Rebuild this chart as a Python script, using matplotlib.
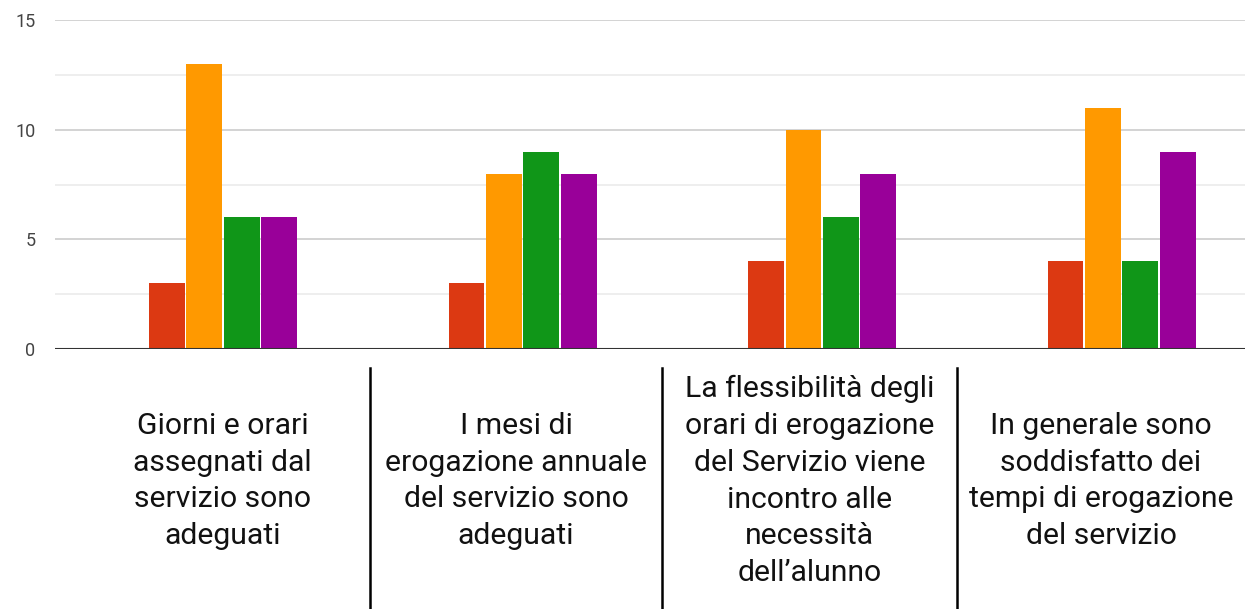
import matplotlib
matplotlib.use("Agg")
import matplotlib.pyplot as plt
from matplotlib.lines import Line2D
import numpy as np

categories = [
    "Giorni e orari\nassegnati dal\nservizio sono\nadeguati",
    "I mesi di\nerogazione annuale\ndel servizio sono\nadeguati",
    "La flessibilità degli\norari di erogazione\ndel Servizio viene\nincontro alle\nnecessità\ndell\u2019alunno",
    "In generale sono\nsoddisfatto dei\ntempi di erogazione\ndel servizio",
]
series_red = [3, 3, 4, 4]
series_orange = [13, 8, 10, 11]
series_green = [6, 9, 6, 4]
series_purple = [6, 8, 8, 9]
series = [series_red, series_orange, series_green, series_purple]
colors = ["#dc3912", "#ff9900", "#109618", "#990099"]
yticks = [0, 5, 10, 15]

plt.rcParams['font.family'] = ['Roboto', 'DejaVu Sans']

W, H = 1245, 609
fig = plt.figure(figsize=(W / 100, H / 100), dpi=100)
ax = fig.add_axes([55 / W, 1 - 349 / H, 1190 / W, 329 / H])

x = np.arange(len(categories))
slot = 0.125
bw = 0.119
for i, (vals, c) in enumerate(zip(series, colors)):
    ax.bar(x + (i - 1.5) * slot, vals, width=bw, color=c, zorder=3)

ax.set_ylim(0, 15)
ax.set_xlim(-0.561, 3.412)
ax.set_yticks(yticks)
ax.set_yticklabels([str(t) for t in yticks], fontsize=13, color="#444444")
ax.set_yticks([2.5, 7.5, 12.5], minor=True)
ax.grid(axis='y', which='major', color="#cccccc", linewidth=1.2, zorder=0)
ax.grid(axis='y', which='minor', color="#ebebeb", linewidth=1.2, zorder=0)
ax.tick_params(axis='y', which='both', length=0, pad=14)
ax.set_xticks([])
for s in ['top', 'right', 'left', 'bottom']:
    ax.spines[s].set_visible(False)
ax.axhline(0, color="#333333", linewidth=1.5, zorder=4)

# table of category labels below
col_bounds = [75, 370, 662, 957, 1245]
for xp in col_bounds[1:-1]:
    fig.add_artist(Line2D([xp / W, xp / W], [1 - 368 / H, 0], color="black",
                          linewidth=1.8, transform=fig.transFigure))
for i, lab in enumerate(categories):
    cx = (col_bounds[i] + col_bounds[i + 1]) / 2
    fig.text(cx / W, 1 - 481 / H, lab, ha='center', va='center', fontsize=21.7,
             color="#111111", linespacing=1.40)

fig.savefig("out.png", dpi=100)
